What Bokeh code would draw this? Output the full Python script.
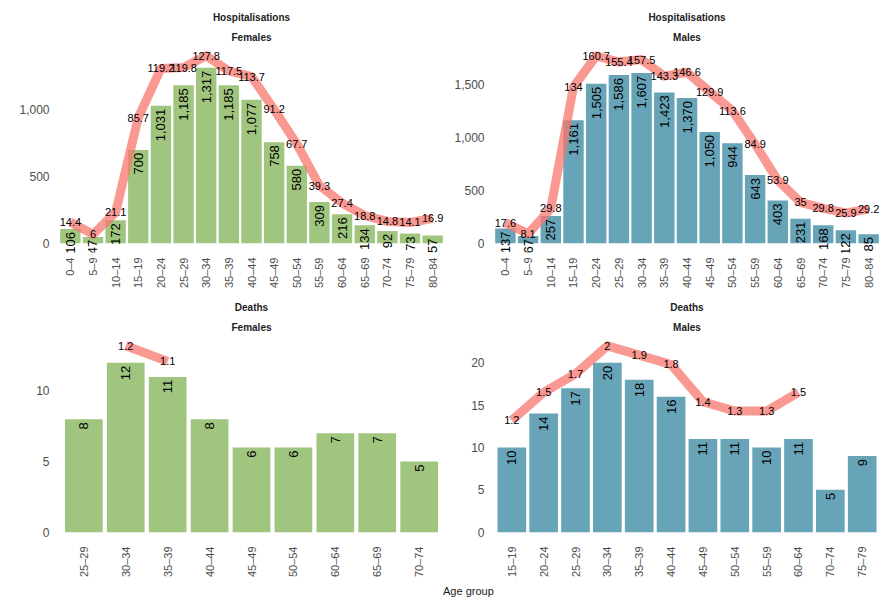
import math

from bokeh.core.properties import value
from bokeh.embed import file_html
from bokeh.layouts import column, row
from bokeh.models import (ColumnDataSource, Div, FactorRange, NumeralTickFormatter,
                          Range1d, SingleIntervalTicker, Title)
from bokeh.plotting import figure
from bokeh.resources import INLINE

FONT = "Liberation Sans"

# ---- data -------------------------------------------------------------
hosp_ages = ["0–4", "5–9", "10–14", "15–19", "20–24", "25–29", "30–34", "35–39",
             "40–44", "45–49", "50–54", "55–59", "60–64", "65–69", "70–74",
             "75–79", "80–84"]
hosp_female_counts = [106, 47, 172, 700, 1031, 1185, 1317, 1185, 1077, 758, 580,
                      309, 216, 134, 92, 73, 57]
hosp_female_rates = [14.4, 6, 21.1, 85.7, 119.2, 119.8, 127.8, 117.5, 113.7, 91.2,
                     67.7, 39.3, 27.4, 18.8, 14.8, 14.1, 16.9]
hosp_male_counts = [137, 67, 257, 1161, 1505, 1586, 1607, 1423, 1370, 1050, 944,
                    643, 403, 231, 168, 122, 85]
hosp_male_rates = [17.6, 8.1, 29.8, 134, 160.7, 155.4, 157.5, 143.3, 146.6, 129.9,
                   113.6, 84.9, 53.9, 35, 29.8, 25.9, 29.2]

death_female_ages = ["25–29", "30–34", "35–39", "40–44", "45–49", "50–54",
                     "60–64", "65–69", "70–74"]
death_female_counts = [8, 12, 11, 8, 6, 6, 7, 7, 5]
death_female_rates = [None, 1.2, 1.1, None, None, None, None, None, None]

death_male_ages = ["15–19", "20–24", "25–29", "30–34", "35–39", "40–44", "45–49",
                   "50–54", "55–59", "60–64", "70–74", "75–79"]
death_male_counts = [10, 14, 17, 20, 18, 16, 11, 11, 10, 11, 5, 9]
death_male_rates = [1.2, 1.5, 1.7, 2, 1.9, 1.8, 1.4, 1.3, 1.3, 1.5, None, None]

# rates share the count axis after multiplying by this factor
RATE_SCALE = 11

GREEN = "#A0C57E"
BLUE = "#68A4B8"
RATE_COLOUR = "#F8766D"
TICK_COLOUR = "#4D4D4D"


def panel(measure, sex, ages, counts, rates, colour, width, border_left,
          border_right, height, border_top, border_bottom, interval):
    scaled = [r * RATE_SCALE if r is not None else float("nan") for r in rates]
    hi = max(max(counts), max(s for s in scaled if s == s))
    pad = 0.05 * hi

    p = figure(
        x_range=FactorRange(factors=ages, range_padding=0.2,
                            range_padding_units="absolute"),
        y_range=Range1d(-pad, hi + pad),
        width=width, height=height,
        min_border_left=border_left, min_border_right=border_right,
        min_border_top=border_top, min_border_bottom=border_bottom,
        output_backend="svg", toolbar_location=None,
        background_fill_color="white", border_fill_color="white",
    )
    p.outline_line_color = None
    p.xgrid.visible = False
    p.ygrid.visible = False

    for ax in (p.xaxis[0], p.yaxis[0]):
        ax.axis_line_color = None
        ax.major_tick_line_color = None
        ax.minor_tick_line_color = None
        ax.major_tick_out = 0
        ax.major_tick_in = 0
        ax.minor_tick_out = 0
        ax.minor_tick_in = 0
        ax.major_label_text_font = FONT
        ax.major_label_text_color = TICK_COLOUR
        ax.major_label_standoff = 5

    p.xaxis.major_label_orientation = math.pi / 2
    p.xaxis.major_label_text_font_size = "11px"
    p.yaxis.major_label_text_font_size = "12px"
    p.yaxis.ticker = SingleIntervalTicker(interval=interval)
    p.yaxis.formatter = NumeralTickFormatter(format="0,0")

    bars = ColumnDataSource(dict(
        age=ages, count=counts, label=[f"{c:,}" for c in counts]))
    p.vbar(x="age", top="count", bottom=0, width=0.9, source=bars,
           fill_color=colour, line_color=None)
    p.text(x="age", y="count", text="label", source=bars,
           angle=math.pi / 2, text_align="right", text_baseline="middle",
           y_offset=3, text_font=value(FONT), text_font_size="13px",
           text_color="black")

    p.line(x=ages, y=scaled, line_color=RATE_COLOUR, line_alpha=0.75,
           line_width=9, line_join="round")

    keep = [i for i, r in enumerate(rates) if r is not None]
    rate_src = ColumnDataSource(dict(
        age=[ages[i] for i in keep],
        y=[scaled[i] for i in keep],
        label=[f"{rates[i]:g}" for i in keep]))
    p.text(x="age", y="y", text="label", source=rate_src,
           text_align="center", text_baseline="middle",
           text_font=value(FONT), text_font_size="11px", text_color="black")

    p.add_layout(Title(text=sex, align="center", text_font=FONT,
                       text_font_size="10px", text_font_style="bold",
                       text_color="#222222", standoff=7), "above")
    p.add_layout(Title(text=measure, align="center", text_font=FONT,
                       text_font_size="10px", text_font_style="bold",
                       text_color="#222222", standoff=8), "above")
    return p


p1 = panel("Hospitalisations", "Females", hosp_ages, hosp_female_counts,
           hosp_female_rates, GREEN, 450, 54, 2, 291, 46, 39, 500)
p2 = panel("Hospitalisations", "Males", hosp_ages, hosp_male_counts,
           hosp_male_rates, BLUE, 440, 39, 6, 291, 46, 39, 500)
p3 = panel("Deaths", "Females", death_female_ages, death_female_counts,
           death_female_rates, GREEN, 450, 54, 2, 290, 45, 40, 5)
p4 = panel("Deaths", "Males", death_male_ages, death_male_counts,
           death_male_rates, BLUE, 440, 39, 6, 290, 45, 40, 5)

xlabel = Div(
    text="Age group", width=890, height=19,
    styles={"font-family": "'Liberation Sans', Arial, sans-serif",
            "font-size": "11px", "color": "#1a1a1a",
            "padding-left": "438px", "line-height": "11px"},
)

layout = column(row(p1, p2), row(p3, p4), xlabel)

with open("out.html", "w") as f:
    f.write(file_html(layout, INLINE))
